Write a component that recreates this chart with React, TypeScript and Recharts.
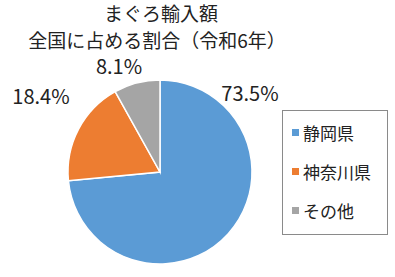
import React from 'react';
import { PieChart, Pie, Cell, Legend } from 'recharts';

const categories = ['静岡県', '神奈川県', 'その他'];
const shares = [73.5, 18.4, 8.1];
const colors = ['#5B9BD5', '#ED7D31', '#A5A5A5'];
const titleLines = ['まぐろ輸入額', '全国に占める割合（令和6年）'];

const data = categories.map((name, i) => ({ name, value: shares[i] }));

const FONT = '"Noto Sans CJK JP", "Noto Sans", sans-serif';

// label offsets relative to the pie centre (Excel-style manual placement)
const labelOffsets = [
  { dx: 90, dy: -80 },
  { dx: -119, dy: -77 },
  { dx: -41, dy: -107 },
];

const renderLabel = (props: any) => {
  const { cx, cy, index, value } = props;
  const o = labelOffsets[index];
  return (
    <text
      x={cx + o.dx}
      y={cy + o.dy}
      textAnchor="middle"
      dominantBaseline="central"
      fontFamily={FONT}
      fontSize={20}
      fill="#222"
    >
      {value.toFixed(1)}%
    </text>
  );
};

const renderLegend = () => {
  return (
    <div
      style={{
        width: 104,
        height: 121,
        border: '1px solid #8a8a8a',
        background: '#fff',
        boxSizing: 'content-box',
        fontFamily: FONT,
        paddingTop: 2,
      }}
    >
      {categories.map((name, i) => (
        <div
          key={name}
          style={{
            display: 'flex',
            alignItems: 'center',
            height: 39,
            paddingLeft: 9,
          }}
        >
          <span
            style={{
              display: 'inline-block',
              width: 7,
              height: 7,
              background: colors[i],
              marginRight: 4,
            }}
          />
          <span style={{ fontSize: 17, color: '#222', lineHeight: '20px' }}>{name}</span>
        </div>
      ))}
    </div>
  );
};

export default function App() {
  return (
    <div style={{ position: 'absolute', left: 0, top: 0, width: 395, height: 277, background: '#fff' }}>
      <div
        style={{
          position: 'absolute',
          left: 0,
          top: 0,
          width: 320,
          textAlign: 'center',
          fontFamily: FONT,
          fontSize: 19,
          color: '#222',
          lineHeight: '22px',
          zIndex: 2,
        }}
      >
        {titleLines.map((t, i) => (
          <div key={i} style={{ position: 'absolute', left: 0, width: i === 0 ? 322 : 314, top: 2 + i * 27 }}>
            {t}
          </div>
        ))}
      </div>
      <PieChart width={395} height={277} margin={{ top: 0, right: 0, bottom: 0, left: 0 }}>
        <Pie
          data={data}
          dataKey="value"
          nameKey="name"
          cx={160}
          cy={172}
          outerRadius={92}
          startAngle={90}
          endAngle={-270}
          stroke="#fff"
          strokeWidth={1.5}
          label={renderLabel}
          labelLine={false}
          isAnimationActive={false}
        >
          {data.map((d, i) => (
            <Cell key={d.name} fill={colors[i]} />
          ))}
        </Pie>
        <Legend
          content={renderLegend}
          layout="vertical"
          wrapperStyle={{ position: 'absolute', left: 282, top: 110, width: 'auto' }}
        />
      </PieChart>
    </div>
  );
}
